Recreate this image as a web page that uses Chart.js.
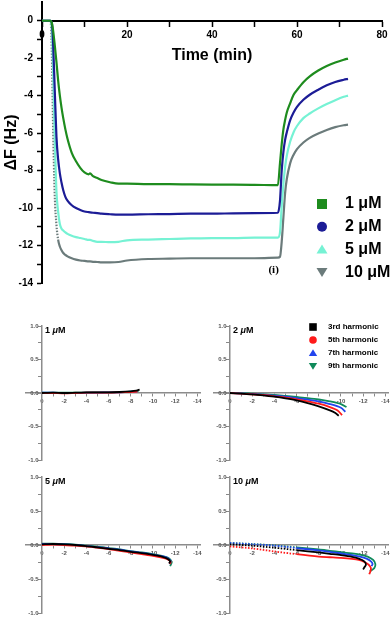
<!DOCTYPE html>
<html>
<head>
<meta charset="utf-8">
<script src="https://cdn.jsdelivr.net/npm/chart.js@4.4.1/dist/chart.umd.min.js"></script>
<style>
    body { margin: 0; background: #fff; }
    canvas { position: absolute; }
</style>
</head>
<body>
<canvas id="freq-chart" width="392" height="300" style="left:0;top:0;width:392px;height:300px"></canvas>
<canvas id="panel-1" width="215" height="154" style="left:0;top:316px;width:215px;height:154px"></canvas>
<canvas id="panel-2" width="204" height="154" style="left:188px;top:316px;width:204px;height:154px"></canvas>
<canvas id="panel-3" width="215" height="150" style="left:0;top:467px;width:215px;height:150px"></canvas>
<canvas id="panel-4" width="204" height="150" style="left:188px;top:467px;width:204px;height:150px"></canvas>
<script>
// ---- top panel: frequency shift vs time ----
const timeMin = [0, 1, 2, 2.3, 2.6, 3, 3.4, 3.8, 4.2, 4.6, 5, 5.5, 6, 7, 8, 9, 10, 11, 11.3, 12, 13, 14, 16, 18, 20, 25, 30, 35, 40, 45, 50, 55.5,
    56, 56.4, 56.8, 57.2, 57.6, 58.4, 59.2, 60, 61.5, 63, 65, 67, 69, 71, 72];
const df1uM = [0, 0, 0, -0.1, -0.5, -1.3, -2.2, -3.2, -4.0, -4.65, -5.2, -5.8, -6.3, -7.05, -7.5, -7.85, -8.1, -8.2, -8.15, -8.3, -8.4, -8.5, -8.62, -8.7, -8.7, -8.72, -8.72, -8.74, -8.75, -8.75, -8.76, -8.78,
    -7.6, -6.6, -5.8, -5.3, -4.9, -4.4, -3.95, -3.7, -3.28, -2.97, -2.66, -2.42, -2.23, -2.08, -2.02];
const df2uM = [0, 0, 0, -0.1, -1.1, -3.7, -6.2, -7.4, -8.15, -8.65, -9.05, -9.4, -9.6, -9.85, -10.0, -10.1, -10.18, -10.22, -10.23, -10.25, -10.27, -10.3, -10.33, -10.35, -10.35, -10.33, -10.32, -10.3, -10.3, -10.28, -10.27, -10.25,
    -9.6, -8.0, -7.0, -6.36, -5.95, -5.3, -4.9, -4.6, -4.22, -3.95, -3.68, -3.45, -3.27, -3.15, -3.1];
const df5uM = [0, 0, 0, -0.3, -2.5, -6.2, -9.1, -10.2, -10.85, -11.1, -11.2, -11.3, -11.38, -11.48, -11.55, -11.6, -11.65, -11.7, -11.7, -11.75, -11.8, -11.8, -11.82, -11.8, -11.72, -11.68, -11.65, -11.62, -11.6, -11.6, -11.58, -11.58,
    -11.3, -9.9, -8.7, -7.8, -7.2, -6.45, -5.95, -5.62, -5.2, -4.95, -4.68, -4.45, -4.24, -4.06, -4.0];
const df10uM = [0, 0, 0, -1.5, -5.5, -9.3, -10.9, -11.7, -12.05, -12.25, -12.4, -12.5, -12.58, -12.68, -12.75, -12.8, -12.82, -12.85, -12.85, -12.87, -12.88, -12.9, -12.9, -12.88, -12.8, -12.72, -12.7, -12.68, -12.68, -12.68, -12.68, -12.65,
    -12.6, -11.8, -10.5, -9.2, -8.45, -7.6, -7.15, -6.85, -6.5, -6.25, -6.02, -5.83, -5.68, -5.58, -5.55];
const concLabels = ["1 \u03BCM", "2 \u03BCM", "5 \u03BCM", "10 \u03BCM"];
const concColors = ["#1e8c1e", "#1c1c96", "#76f2d4", "#6b7b7b"];
const concMarkers = ["rect", "circle", "triangle", "triangleDown"];

// ---- small panels: dissipation shift vs frequency shift (per harmonic) ----
const harmonicLabels = ["3rd harmonic", "5th harmonic", "7th harmonic", "9th harmonic"];
const harmonicColors = ["#000000", "#ff1a1a", "#2244ee", "#0f8a5a"];
const harmonicMarkers = ["rect", "circle", "triangle", "triangleDown"];

// 1 uM
const f1_3 = [0, -1, -2, -3, -4, -5, -6, -7, -8, -8.5, -8.8];
const d1_3 = [0, 0.005, 0, 0.005, 0.01, 0.01, 0.01, 0.015, 0.025, 0.035, 0.05];
const f1_5 = [0, -1, -2, -3, -4, -5, -6, -7, -8, -8.6];
const d1_5 = [0, 0, -0.005, 0, 0.005, 0.005, 0.005, 0.01, 0.015, 0.02];
const f1_7 = [0, -1, -2, -3, -4, -5, -6, -7, -8, -8.6];
const d1_7 = [0.005, 0.005, 0, 0, 0.005, 0.005, 0.01, 0.01, 0.02, 0.025];
const f1_9 = [0, -1, -2, -3, -4, -5, -6, -7, -8, -8.7];
const d1_9 = [0.005, 0.005, 0.005, 0.005, 0.005, 0.01, 0.01, 0.015, 0.02, 0.03];
// 2 uM
const f2_3 = [0, -1, -2, -3, -4, -5, -6, -7, -8, -9, -9.5, -9.8];
const d2_3 = [0, -0.01, -0.02, -0.035, -0.055, -0.08, -0.11, -0.15, -0.2, -0.26, -0.3, -0.34];
const f2_5 = [0, -1, -2, -3, -4, -5, -6, -7, -8, -9, -9.7, -10.1];
const d2_5 = [0, -0.01, -0.02, -0.03, -0.05, -0.07, -0.095, -0.125, -0.16, -0.21, -0.26, -0.33];
const f2_7 = [0, -1, -2, -3, -4, -5, -6, -7, -8, -9, -10, -10.4];
const d2_7 = [0, -0.005, -0.015, -0.025, -0.04, -0.055, -0.075, -0.1, -0.125, -0.165, -0.22, -0.28];
const f2_9 = [0, -1, -2, -3, -4, -5, -6, -7, -8, -9, -10, -10.5];
const d2_9 = [0, 0, -0.01, -0.02, -0.03, -0.045, -0.06, -0.075, -0.095, -0.125, -0.165, -0.21];
// 5 uM
const f3_3 = [0, -1, -2, -3, -4, -5, -6, -7, -8, -9, -10, -10.8, -11.3, -11.55, -11.45];
const d3_3 = [0.01, 0.015, 0.01, 0, -0.015, -0.035, -0.055, -0.075, -0.1, -0.12, -0.145, -0.17, -0.2, -0.24, -0.27];
const f3_5 = [0, -1, -2, -3, -4, -5, -6, -7, -8, -9, -10, -10.8, -11.3, -11.6, -11.5];
const d3_5 = [0, 0.005, 0, -0.01, -0.02, -0.04, -0.06, -0.085, -0.11, -0.135, -0.16, -0.185, -0.21, -0.25, -0.28];
const f3_7 = [0, -1, -2, -3, -4, -5, -6, -7, -8, -9, -10, -10.8, -11.35, -11.6, -11.5];
const d3_7 = [0.015, 0.015, 0.01, 0, -0.015, -0.03, -0.05, -0.07, -0.095, -0.115, -0.14, -0.165, -0.195, -0.24, -0.28];
const f3_9 = [0, -1, -2, -3, -4, -5, -6, -7, -8, -9, -10, -10.8, -11.4, -11.7, -11.55];
const d3_9 = [0.02, 0.02, 0.015, 0.005, -0.01, -0.025, -0.045, -0.065, -0.09, -0.11, -0.135, -0.16, -0.19, -0.25, -0.31];
// 10 uM
const f4_3 = [0, -2, -4, -6, -8, -9, -10, -11, -11.6, -12.1, -12.25, -12.1, -12.0];
const d4_3 = [0.01, -0.01, -0.04, -0.075, -0.11, -0.13, -0.15, -0.175, -0.2, -0.24, -0.29, -0.33, -0.36];
const f4_5 = [0, -2, -4, -6, -8, -9, -10, -11, -11.6, -12.1, -12.5, -12.7, -12.65, -12.55];
const d4_5 = [-0.02, -0.05, -0.095, -0.135, -0.17, -0.18, -0.19, -0.205, -0.22, -0.25, -0.29, -0.34, -0.39, -0.43];
const f4_7 = [0, -2, -4, -6, -8, -9, -10, -11, -11.7, -12.3, -12.7, -12.85, -12.75];
const d4_7 = [0.03, 0.01, -0.01, -0.045, -0.08, -0.1, -0.125, -0.15, -0.17, -0.2, -0.24, -0.28, -0.31];
const f4_9 = [0, -2, -4, -6, -8, -9, -10, -11, -11.7, -12.4, -12.9, -13.1, -13.0, -12.6];
const d4_9 = [0.03, 0.015, -0.005, -0.035, -0.065, -0.085, -0.105, -0.125, -0.14, -0.17, -0.22, -0.28, -0.34, -0.39];

const FONT = "'Liberation Sans', Arial, sans-serif";

function zeroPadding(scale) {
    scale.paddingLeft = 0;
    scale.paddingRight = 0;
    scale.paddingTop = 0;
    scale.paddingBottom = 0;
}

// filled marker for the hand drawn legends
function drawMarker(ctx, shape, x, y, r, color) {
    ctx.fillStyle = color;
    ctx.beginPath();
    if (shape === "rect") {
        ctx.rect(x - r, y - r, 2 * r, 2 * r);
    } else if (shape === "circle") {
        ctx.arc(x, y, r, 0, Math.PI * 2);
    } else if (shape === "triangle") {
        ctx.moveTo(x, y - r);
        ctx.lineTo(x + r * 1.1, y + r * 0.8);
        ctx.lineTo(x - r * 1.1, y + r * 0.8);
    } else {
        ctx.moveTo(x, y + r);
        ctx.lineTo(x + r * 1.1, y - r * 0.8);
        ctx.lineTo(x - r * 1.1, y - r * 0.8);
    }
    ctx.closePath();
    ctx.fill();
}

const concLegend = {
    id: "concLegend",
    afterDraw(chart) {
        const ctx = chart.ctx;
        ctx.save();
        ctx.font = "bold 16px " + FONT;
        ctx.textBaseline = "middle";
        chart.data.datasets.forEach((ds, i) => {
            const y = 204 + i * 22.7;
            drawMarker(ctx, concMarkers[i], 322, y, 5, ds.borderColor);
            ctx.fillStyle = "#000";
            ctx.fillText(ds.label, 345, y);
        });
        // rinse marker
        ctx.font = "bold 11px 'Liberation Serif', serif";
        ctx.textAlign = "center";
        ctx.fillText("(i)", chart.scales.x.getPixelForValue(54.5), chart.scales.y.getPixelForValue(-13.3));
        ctx.restore();
    },
};

let freqChart = new Chart(document.getElementById("freq-chart"), {
    type: "line",
    data: {
        datasets: [df1uM, df2uM, df5uM, df10uM].map((vals, i) => ({
            label: concLabels[i],
            data: timeMin.map((t, j) => ({ x: t, y: vals[j] })),
            borderColor: concColors[i],
            backgroundColor: concColors[i],
            borderWidth: 2.2,
            pointRadius: 0,
            cubicInterpolationMode: "monotone",
            segment: i === 3 ? {
                borderDash: (c) => (c.p0.parsed.x >= 2 && c.p1.parsed.x <= 3.8 ? [1.5, 1.5] : undefined),
            } : undefined,
        })),
    },
    options: {
        responsive: false,
        devicePixelRatio: 1,
        animation: false,
        layout: { padding: { left: 0, top: 2, right: 10, bottom: 17 } },
        scales: {
            x: {
                type: "linear",
                min: 0,
                max: 80,
                position: { y: 0 },
                ticks: {
                    stepSize: 10,
                    autoSkip: false,
                    maxRotation: 0,
                    padding: 4,
                    color: "#000",
                    font: { family: FONT, size: 10, weight: "bold" },
                    callback: (v) => (v % 20 === 0 ? String(v) : ""),
                },
                grid: { drawOnChartArea: false, tickLength: 5, tickColor: "#000", tickWidth: 1.5 },
                border: { color: "#000", width: 2 },
                title: {
                    display: true,
                    text: "Time (min)",
                    color: "#000",
                    font: { family: FONT, size: 16, weight: "bold" },
                    padding: { top: 0, bottom: 0 },
                },
                afterFit: zeroPadding,
            },
            y: {
                type: "linear",
                min: -14,
                max: 1,
                position: "left",
                afterBuildTicks: (s) => { s.ticks = s.ticks.filter((t) => t.value <= 0); },
                ticks: {
                    stepSize: 1,
                    autoSkip: false,
                    padding: 4,
                    color: "#000",
                    font: { family: FONT, size: 10, weight: "bold" },
                    callback: (v) => (v % 2 === 0 ? String(v) : ""),
                },
                grid: { drawOnChartArea: false, tickLength: 5, tickColor: "#000", tickWidth: 1.5 },
                border: { color: "#000", width: 2 },
                title: {
                    display: true,
                    text: "\u0394F (Hz)",
                    color: "#000",
                    font: { family: FONT, size: 16, weight: "bold" },
                    padding: { top: 2, bottom: 0 },
                },
                afterFit: (s) => { zeroPadding(s); s.width = 42; },
            },
        },
        plugins: { legend: { display: false }, tooltip: { enabled: false } },
    },
    plugins: [concLegend],
});

// panel title like "1 μM" with italic mu
function panelTitle(text) {
    return {
        id: "panelTitle",
        afterDraw(chart) {
            const ctx = chart.ctx;
            const x0 = chart.scales.x.getPixelForValue(0) + 3;
            const y0 = chart.chartArea.top + 5;
            ctx.save();
            ctx.fillStyle = "#000";
            ctx.textBaseline = "middle";
            ctx.font = "bold 9px " + FONT;
            const num = text + " ";
            ctx.fillText(num, x0, y0);
            let x = x0 + ctx.measureText(num).width;
            ctx.font = "italic bold 9px " + FONT;
            ctx.fillText("\u03BC", x, y0);
            x += ctx.measureText("\u03BC").width;
            ctx.font = "bold 9px " + FONT;
            ctx.fillText("M", x, y0);
            ctx.restore();
        },
    };
}

const harmonicLegend = {
    id: "harmonicLegend",
    afterDraw(chart) {
        const ctx = chart.ctx;
        ctx.save();
        ctx.font = "bold 8px " + FONT;
        ctx.textBaseline = "middle";
        harmonicLabels.forEach((label, i) => {
            const y = 11 + i * 13;
            drawMarker(ctx, harmonicMarkers[i], 125, y, 3.8, harmonicColors[i]);
            ctx.fillStyle = "#000";
            ctx.fillText(label, 140, y);
        });
        ctx.restore();
    },
};

function makePanel(canvasId, title, fList, dList, padding, dashedAbove, extraPlugins) {
    const canvas = document.getElementById(canvasId);
    if (!canvas) {
        return null;
    }
    return new Chart(canvas, {
        type: "scatter",
        data: {
            datasets: fList.map((fs, i) => ({
                label: harmonicLabels[i],
                data: fs.map((f, j) => ({ x: f, y: dList[i][j] })),
                showLine: true,
                borderColor: harmonicColors[i],
                backgroundColor: harmonicColors[i],
                borderWidth: 1.8,
                pointRadius: 0,
                tension: 0.25,
                segment: dashedAbove !== null ? {
                    borderDash: (c) => (c.p1.parsed.x > dashedAbove ? [1.5, 1.5] : undefined),
                } : undefined,
            })),
        },
        options: {
            responsive: false,
            devicePixelRatio: 1,
            animation: false,
            layout: { padding: padding },
            scales: {
                x: {
                    type: "linear",
                    min: -14.3,
                    max: 1.5,
                    reverse: true,
                    position: { y: 0 },
                    afterBuildTicks: (s) => { s.ticks = s.ticks.filter((t) => t.value <= 0 && t.value >= -14); },
                    ticks: {
                        stepSize: 1,
                        includeBounds: false,
                        autoSkip: false,
                        maxRotation: 0,
                        padding: 2,
                        color: "#555",
                        font: { family: FONT, size: 6, weight: "bold" },
                        callback: (v) => (v % 2 === 0 ? String(v) : ""),
                    },
                    grid: { drawOnChartArea: false, tickLength: 3, tickColor: "#888", tickWidth: 1 },
                    border: { color: "#8c8c8c", width: 1.5 },
                    afterFit: zeroPadding,
                },
                y: {
                    type: "linear",
                    min: -1,
                    max: 1,
                    position: { x: 0 },
                    ticks: {
                        stepSize: 0.25,
                        autoSkip: false,
                        padding: 2,
                        color: "#555",
                        font: { family: FONT, size: 6, weight: "bold" },
                        callback: (v) => (Math.abs(v * 2 - Math.round(v * 2)) < 1e-6 ? v.toFixed(1) + "  " : ""),
                    },
                    grid: { drawOnChartArea: false, tickLength: 3, tickColor: "#888", tickWidth: 1 },
                    border: { color: "#8c8c8c", width: 1.5 },
                    afterFit: zeroPadding,
                },
            },
            plugins: { legend: { display: false }, tooltip: { enabled: false } },
        },
        plugins: [panelTitle(title)].concat(extraPlugins || []),
    });
}

makePanel("panel-1", "1", [f1_3, f1_5, f1_7, f1_9], [d1_3, d1_5, d1_7, d1_9],
    { left: 25.3, right: 14.3, top: 10, bottom: 10 }, null);
makePanel("panel-2", "2", [f2_3, f2_5, f2_7, f2_9], [d2_3, d2_5, d2_7, d2_9],
    { left: 25.3, right: 3.3, top: 10, bottom: 10 }, null, [harmonicLegend]);
makePanel("panel-3", "5", [f3_3, f3_5, f3_7, f3_9], [d3_3, d3_5, d3_7, d3_9],
    { left: 25.3, right: 14.3, top: 10, bottom: 4 }, null);
makePanel("panel-4", "10", [f4_3, f4_5, f4_7, f4_9], [d4_3, d4_5, d4_7, d4_9],
    { left: 25.3, right: 3.3, top: 10, bottom: 4 }, -8);
</script>
</body>
</html>
